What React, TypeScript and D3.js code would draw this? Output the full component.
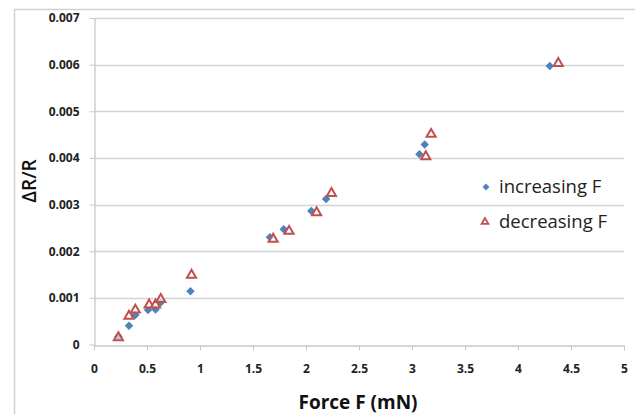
import React, { useEffect, useRef } from 'react';
import * as d3 from 'd3';

// increasing F (blue diamonds)
const incForce = [0.23, 0.33, 0.39, 0.51, 0.58, 0.63, 0.91, 1.66, 1.79, 2.05, 2.19, 3.07, 3.12, 4.30];
const incDR = [0.00017, 0.0004, 0.00063, 0.00074, 0.00075, 0.0009, 0.00114, 0.0023, 0.00247, 0.00286, 0.00312, 0.00408, 0.00429, 0.00597];

// decreasing F (red open triangles)
const decForce = [0.23, 0.33, 0.39, 0.52, 0.58, 0.63, 0.92, 1.69, 1.84, 2.10, 2.24, 3.13, 3.18, 4.38];
const decDR = [0.00015, 0.00061, 0.00074, 0.00085, 0.00085, 0.00097, 0.00149, 0.00226, 0.00243, 0.00283, 0.00324, 0.00403, 0.00451, 0.00603];

const xTicks = [0, 0.5, 1, 1.5, 2, 2.5, 3, 3.5, 4, 4.5, 5];
const yTicks = [0, 0.001, 0.002, 0.003, 0.004, 0.005, 0.006, 0.007];

const legendLabels = ['increasing F', 'decreasing F'];

const BLUE = '#4f81bd';
const RED = '#c0504d';

const App = () => {
  const ref = useRef(null);
  const width = 635;
  const height = 414;

  useEffect(() => {
    const svg = d3.select(ref.current);
    svg.selectAll('*').remove();

    const x = d3.scaleLinear().domain([0, 5]).range([94, 624]);
    const y = d3.scaleLinear().domain([0, 0.007]).range([344.5, 18]);

    svg.append('rect').attr('width', width).attr('height', height).attr('fill', 'white');

    // chart area border
    svg.append('rect')
      .attr('x', 14.5).attr('y', 9.5)
      .attr('width', 640).attr('height', 430)
      .attr('fill', 'none')
      .attr('stroke', '#d0d0d0')
      .attr('stroke-width', 1.5);

    // gridlines
    svg.append('g')
      .selectAll('line')
      .data(yTicks.slice(1))
      .join('line')
      .attr('x1', x(0)).attr('x2', x(5))
      .attr('y1', d => Math.round(y(d)) + 0.5)
      .attr('y2', d => Math.round(y(d)) + 0.5)
      .attr('stroke', '#d4d4d4')
      .attr('stroke-width', 1.3);

    // x axis
    const xAxis = svg.append('g')
      .attr('transform', `translate(0, ${Math.round(y(0)) + 0.5})`)
      .call(d3.axisBottom(x).tickValues(xTicks).tickSize(5).tickSizeOuter(0).tickPadding(14)
        .tickFormat(d => d3.format('')(d)));
    xAxis.select('.domain').attr('stroke', '#c8c8c8').attr('stroke-width', 1.3);
    xAxis.selectAll('.tick line').attr('stroke', '#c8c8c8');
    xAxis.selectAll('text')
      .attr('fill', '#222')
      .style('font-family', 'Open Sans, sans-serif')
      .style('font-weight', 'bold')
      .style('font-size', '12px');

    // y axis
    const yAxis = svg.append('g')
      .attr('transform', `translate(${Math.round(x(0)) + 0.5}, 0)`)
      .call(d3.axisLeft(y).tickValues(yTicks).tickSize(5).tickSizeOuter(0).tickPadding(10)
        .tickFormat(d => (d === 0 ? '0' : d3.format('.3f')(d))));
    yAxis.select('.domain').attr('stroke', '#c8c8c8').attr('stroke-width', 1.3);
    yAxis.selectAll('.tick line').attr('stroke', '#c8c8c8');
    yAxis.selectAll('text')
      .attr('fill', '#222')
      .style('font-family', 'Open Sans, sans-serif')
      .style('font-weight', 'bold')
      .style('font-size', '12px');

    // axis titles
    svg.append('text')
      .attr('x', 358).attr('y', 409)
      .attr('text-anchor', 'middle')
      .attr('fill', '#111')
      .style('font-family', 'Open Sans, sans-serif')
      .style('font-weight', 'bold')
      .style('font-size', '19px')
      .text('Force F (mN)');

    svg.append('text')
      .attr('transform', 'translate(36, 181) rotate(-90)')
      .attr('text-anchor', 'middle')
      .attr('fill', '#111')
      .style('font-family', 'Open Sans, sans-serif')
      .style('font-weight', '600')
      .style('font-size', '19px')
      .text('ΔR/R');

    const diamond = d3.symbol().type(d3.symbolDiamond2).size(46);
    const triangle = d3.symbol().type(d3.symbolTriangle).size(36);

    svg.append('g')
      .selectAll('path')
      .data(d3.range(incForce.length))
      .join('path')
      .attr('transform', i => `translate(${x(incForce[i])}, ${y(incDR[i])})`)
      .attr('d', diamond)
      .attr('fill', BLUE);

    svg.append('g')
      .selectAll('path')
      .data(d3.range(decForce.length))
      .join('path')
      .attr('transform', i => `translate(${x(decForce[i])}, ${y(decDR[i])})`)
      .attr('d', triangle)
      .attr('fill', 'white')
      .attr('fill-opacity', 0.6)
      .attr('stroke', RED)
      .attr('stroke-width', 2);

    // legend
    const legend = svg.append('g');
    legend.append('path')
      .attr('transform', 'translate(486, 187)')
      .attr('d', d3.symbol().type(d3.symbolDiamond2).size(30))
      .attr('fill', BLUE);
    legend.append('path')
      .attr('transform', 'translate(485, 222)')
      .attr('d', d3.symbol().type(d3.symbolTriangle).size(20))
      .attr('fill', 'white')
      .attr('stroke', RED)
      .attr('stroke-width', 1.8);
    legend.selectAll('text')
      .data(legendLabels)
      .join('text')
      .attr('x', 499)
      .attr('y', (d, i) => 193 + i * 35)
      .attr('fill', '#222')
      .style('font-family', 'Open Sans, sans-serif')
      .style('font-size', '18.5px')
      .text(d => d);
  }, []);

  return (
    <div style={{ position: 'absolute', left: 0, top: 0 }}>
      <svg ref={ref} width={width} height={height} style={{ display: 'block' }}></svg>
    </div>
  );
};

export default App;
